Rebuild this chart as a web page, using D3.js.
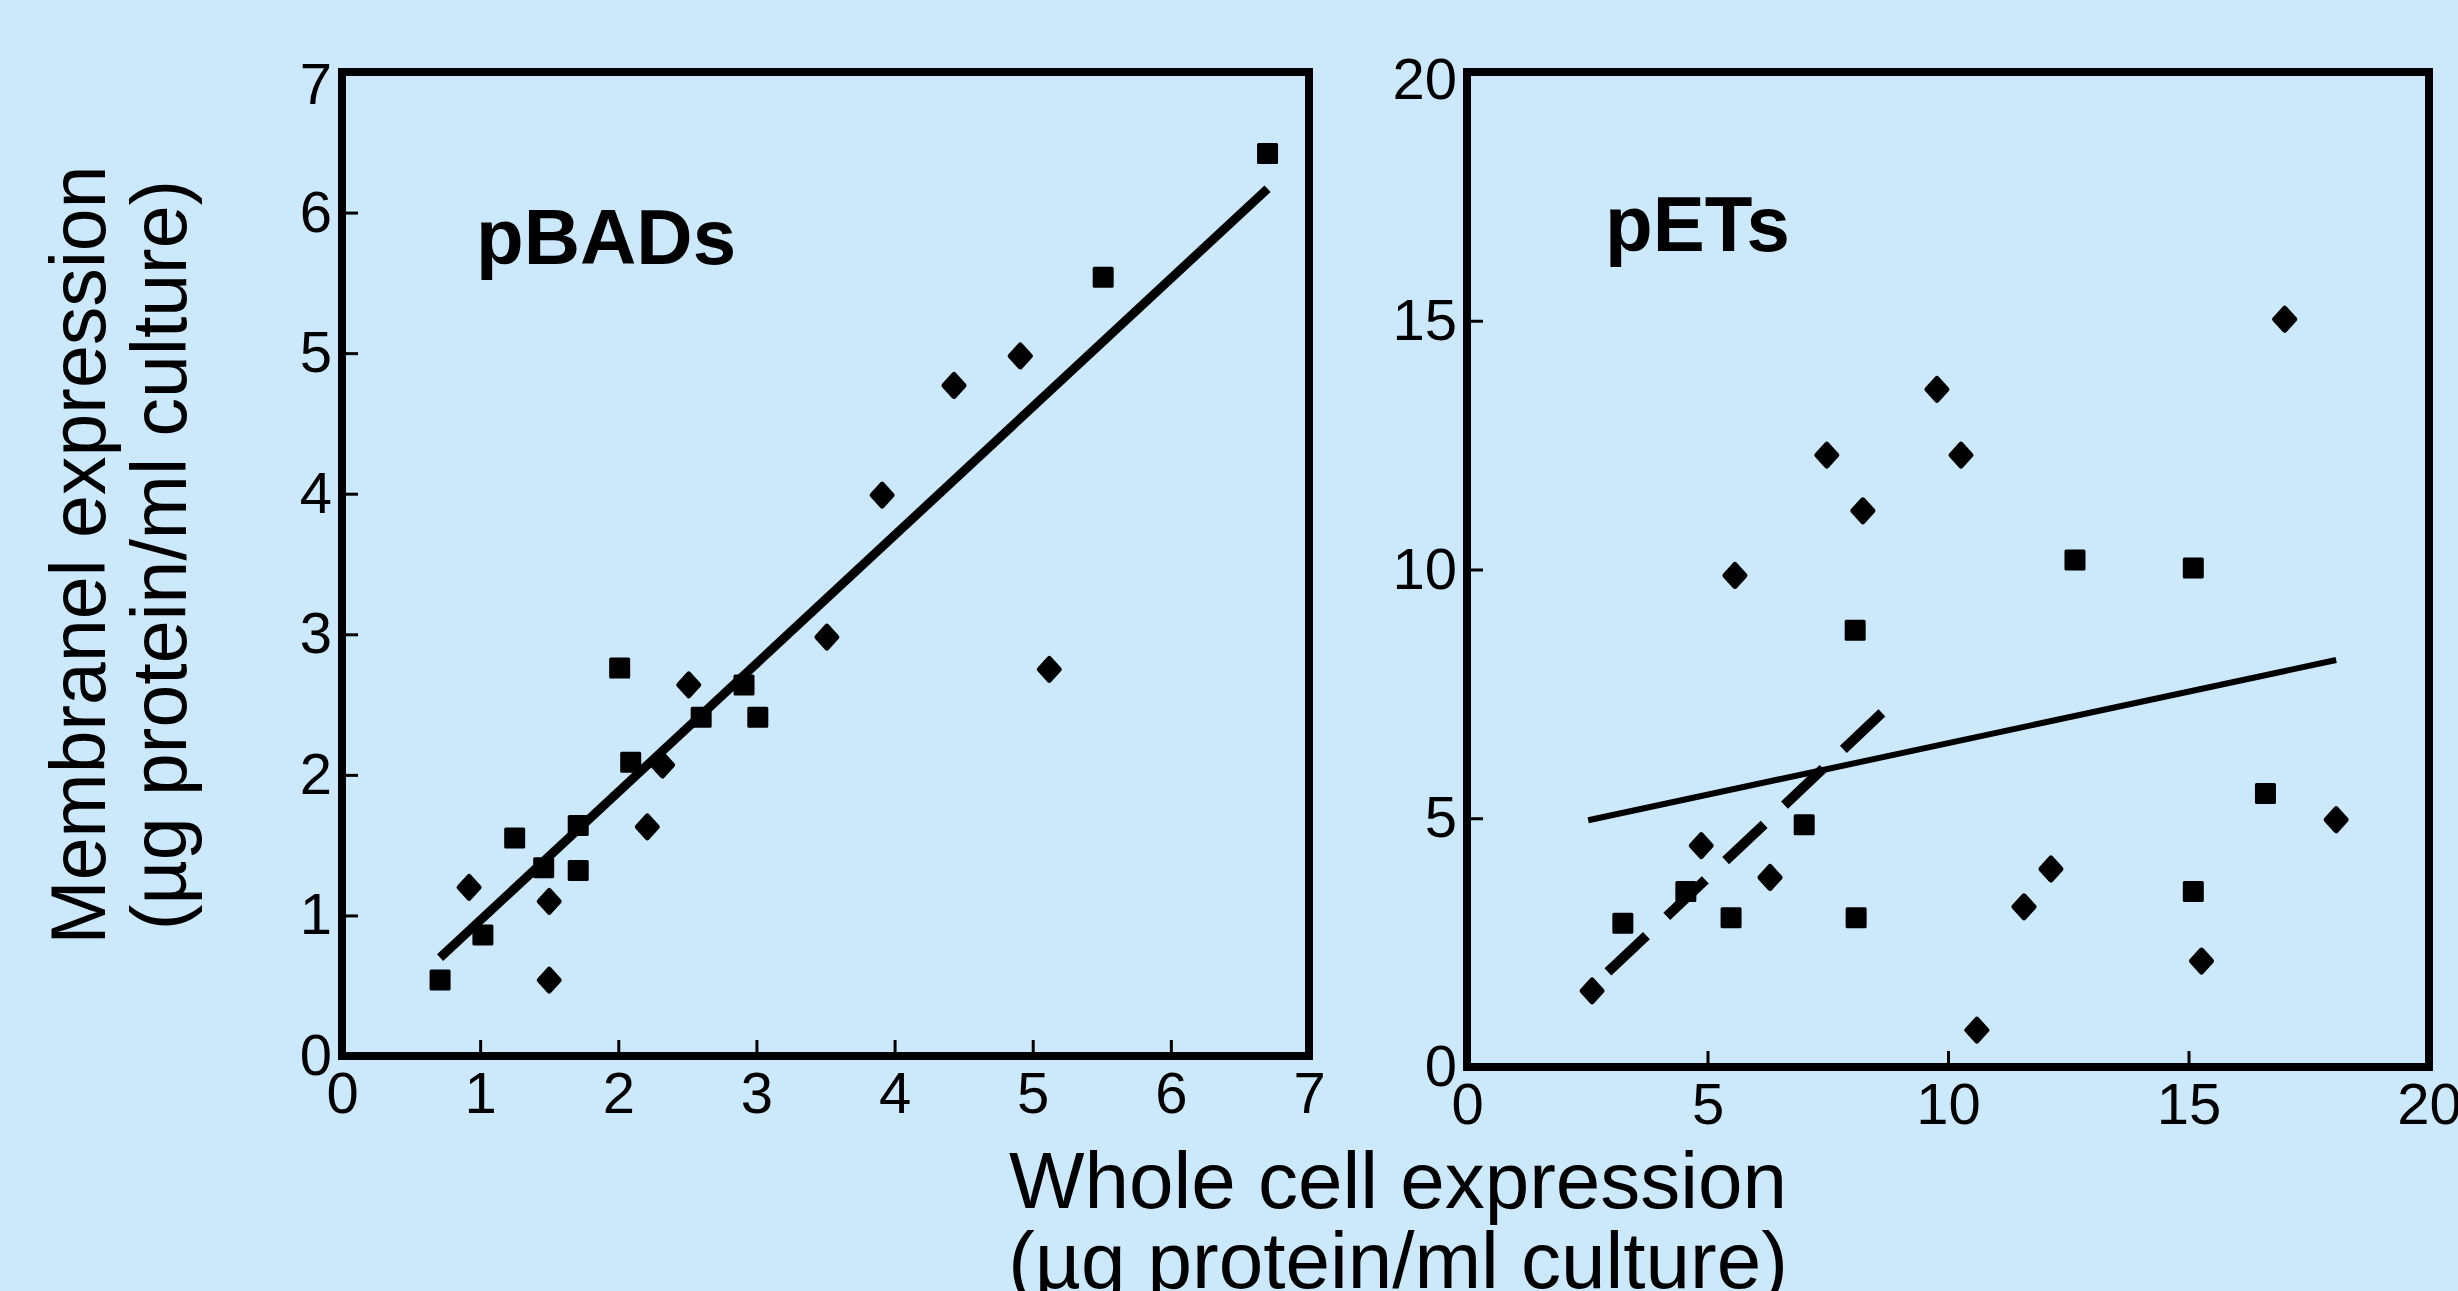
<!DOCTYPE html>
<html>
<head>
<meta charset="utf-8">
<script src="https://cdn.jsdelivr.net/npm/d3@7"></script>
<style>
  html, body { margin: 0; padding: 0; background: #cce9fc; overflow: hidden; }
  text { font-family: "Liberation Sans", Arial, sans-serif; fill: #000; }
</style>
</head>
<body>
<script>
const WIDTH = 2458;
const HEIGHT = 1291;

// pBADs panel
const pbadsXTicks = [0, 1, 2, 3, 4, 5, 6, 7];
const pbadsYTicks = [0, 1, 2, 3, 4, 5, 6, 7];
const pbadsX = [0.71, 0.92, 1.02, 1.25, 1.46, 1.50, 1.50, 1.71, 1.71, 2.01, 2.09, 2.21, 2.32, 2.51, 2.60, 2.91, 3.01, 3.51, 3.91, 4.43, 4.91, 5.12, 5.51, 6.70];
const pbadsY = [0.54, 1.20, 0.86, 1.55, 1.34, 1.10, 0.54, 1.32, 1.64, 2.76, 2.09, 1.63, 2.07, 2.64, 2.41, 2.64, 2.41, 2.98, 3.99, 4.77, 4.98, 2.75, 5.54, 6.42];
const pbadsShape = ["s", "d", "s", "s", "s", "d", "d", "s", "s", "s", "s", "d", "d", "d", "s", "s", "s", "d", "d", "d", "d", "d", "s", "s"];
const pbadsFitX = [0.71, 6.70];
const pbadsFitY = [0.70, 6.17];

// pETs panel
const petsXTicks = [0, 5, 10, 15, 20];
const petsYTicks = [0, 5, 10, 15, 20];
const petsX = [2.60, 3.24, 4.55, 4.87, 5.49, 5.57, 6.30, 7.01, 7.48, 8.07, 8.09, 8.23, 9.77, 10.27, 10.60, 11.58, 12.14, 12.64, 15.10, 15.10, 15.27, 16.60, 17.00, 18.07];
const petsY = [1.53, 2.89, 3.53, 4.45, 3.00, 9.88, 3.81, 4.87, 12.30, 8.78, 3.00, 11.18, 13.62, 12.30, 0.74, 3.22, 3.98, 10.19, 10.03, 3.53, 2.13, 5.50, 15.03, 4.97];
const petsShape = ["d", "s", "s", "d", "s", "d", "d", "s", "d", "s", "s", "d", "d", "d", "d", "d", "d", "s", "s", "s", "d", "s", "d", "d"];
const petsFitX = [2.52, 18.07];
const petsFitY = [4.96, 8.18];
const petsDashX = [2.93, 8.63];
const petsDashY = [1.91, 7.12];

const svg = d3.select("body").append("svg")
    .attr("width", WIDTH)
    .attr("height", HEIGHT);

svg.append("rect").attr("width", WIDTH).attr("height", HEIGHT).attr("fill", "#cce9fc");

function zip(xs, ys) {
    return xs.map((x, i) => [x, ys[i]]);
}

function drawPanel(opt) {
    const x = d3.scaleLinear().domain(opt.xDomain).range([opt.left, opt.right]);
    const y = d3.scaleLinear().domain(opt.yDomain).range([opt.bottom, opt.top]);
    const g = svg.append("g");

    const xAxis = g.append("g")
        .attr("transform", "translate(0," + opt.bottom + ")")
        .call(d3.axisBottom(x).tickValues(opt.xTicks).tickFormat(d3.format("d"))
            .tickSizeInner(-16).tickSizeOuter(0).tickPadding(16));
    const yAxis = g.append("g")
        .attr("transform", "translate(" + opt.left + ",0)")
        .call(d3.axisLeft(y).tickValues(opt.yTicks).tickFormat(d3.format("d"))
            .tickSizeInner(-16).tickSizeOuter(0).tickPadding(10));

    [xAxis, yAxis].forEach(a => {
        a.select(".domain").remove();
        a.selectAll(".tick line").attr("stroke", "#000").attr("stroke-width", 3);
        a.selectAll(".tick text")
            .attr("font-size", 58)
            .attr("font-family", "'Liberation Sans', Arial, sans-serif")
            .attr("fill", "#000");
    });
    // top label sits just under the frame corner
    yAxis.selectAll(".tick text").filter(d => d === opt.yDomain[1]).attr("dy", opt.topDy);

    g.append("rect")
        .attr("x", opt.left).attr("y", opt.top)
        .attr("width", opt.right - opt.left).attr("height", opt.bottom - opt.top)
        .attr("fill", "none").attr("stroke", "#000").attr("stroke-width", 8);

    const line = d3.line().x(d => x(d[0])).y(d => y(d[1]));

    opt.lines.forEach(l => {
        g.append("path")
            .attr("d", line(zip(l.xs, l.ys)))
            .attr("fill", "none").attr("stroke", "#000")
            .attr("stroke-width", l.width)
            .attr("stroke-linecap", "butt")
            .attr("stroke-dasharray", l.dash || null);
    });

    const pts = opt.xs.map((v, i) => ({ x: v, y: opt.ys[i], s: opt.shapes[i] }));
    g.selectAll("path.pt").data(pts).enter().append("path")
        .attr("class", "pt")
        .attr("transform", d => "translate(" + x(d.x) + "," + y(d.y) + ")")
        .attr("d", d => d.s === "s"
            ? "M-9,-9H9V9H-9Z"
            : "M0,-11L10,0L0,11L-10,0Z")
        .attr("fill", "#000").attr("stroke", "#000")
        .attr("stroke-width", d => d.s === "s" ? 3 : 5)
        .attr("stroke-linejoin", "round");

    g.append("text")
        .attr("x", opt.titleX).attr("y", opt.titleY)
        .attr("font-size", 78).attr("font-weight", "bold")
        .text(opt.title);
}

drawPanel({
    left: 342, right: 1309, top: 72, bottom: 1056,
    xDomain: [0, 7], yDomain: [0, 7],
    xTicks: pbadsXTicks, yTicks: pbadsYTicks, topDy: "0.55em",
    xs: pbadsX, ys: pbadsY, shapes: pbadsShape,
    lines: [{ xs: pbadsFitX, ys: pbadsFitY, width: 9 }],
    title: "pBADs", titleX: 476, titleY: 264
});

drawPanel({
    left: 1467, right: 2429, top: 72, bottom: 1067,
    xDomain: [0, 20], yDomain: [0, 20],
    xTicks: petsXTicks, yTicks: petsYTicks, topDy: "0.45em",
    xs: petsX, ys: petsY, shapes: petsShape,
    lines: [
        { xs: petsFitX, ys: petsFitY, width: 6 },
        { xs: petsDashX, ys: petsDashY, width: 10, dash: "53,28" }
    ],
    title: "pETs", titleX: 1605, titleY: 251
});

// shared x axis title
const xTitle = svg.append("text")
    .attr("text-anchor", "middle")
    .attr("font-size", 80);
xTitle.append("tspan").attr("x", 1398).attr("y", 1208).text("Whole cell expression");
xTitle.append("tspan").attr("x", 1398).attr("y", 1288).text("(\u00b5g protein/ml culture)");

// y axis title
svg.append("text")
    .attr("transform", "translate(105,555) rotate(-90)")
    .attr("text-anchor", "middle")
    .attr("font-size", 77)
    .text("Membranel expression");
svg.append("text")
    .attr("transform", "translate(186,555) rotate(-90)")
    .attr("text-anchor", "middle")
    .attr("font-size", 77)
    .text("(\u00b5g protein/ml culture)");
</script>
</body>
</html>
